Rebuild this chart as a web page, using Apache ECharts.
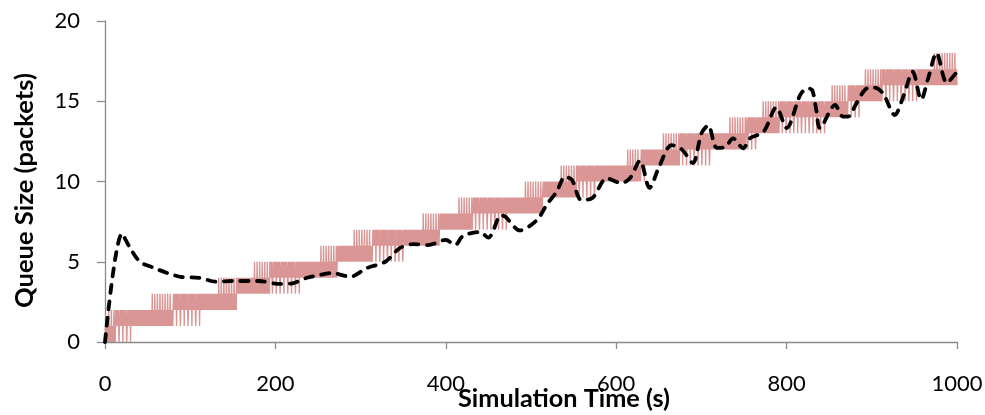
<!DOCTYPE html>
<html>
<head>
<meta charset="utf-8">
<script src="https://cdn.jsdelivr.net/npm/echarts@6/dist/echarts.min.js"></script>
<style>
html,body{margin:0;padding:0;background:#fff;overflow:hidden;}
#chart{width:985px;height:415px;}
</style>
</head>
<body>
<div id="chart"></div>
<script>
// ---- Data ----
const stepTop    = [1, 2, 3, 4, 5, 6, 7, 8, 9, 10, 11, 12, 13, 14, 15, 16, 17, 18];
const riseStart  = [0, 3, 53, 131, 173, 252, 292, 373, 413, 493, 533, 613, 653, 731, 772, 851, 892, 971];
const solidStart = [0, 12, 79, 155, 194, 273, 313, 393, 432, 514, 554, 628, 675, 753, 792, 871, 912, 1001];
const tailEnd    = [0, 33, 114, 155, 232, 273, 354, 393, 473, 514, 577, 636, 712, 768, 847, 886, 953, 1001];
const sampleStep = 0.5;
const riseSpikeEvery = 6;
const tailSpikeEvery = 9;

const avgTime  = [0, 20, 29, 41, 56, 73, 90, 111, 130, 150, 180, 205, 220, 237, 250, 266, 288, 307, 329, 346, 362, 379, 400, 411, 420, 440, 450, 465, 470, 487, 507, 519, 530, 540, 548, 559, 572, 589, 606, 616, 628, 639, 651, 665, 677, 690, 700, 708, 718, 728, 737, 749, 757, 773, 788, 800, 816, 824, 830, 835, 839, 857, 866, 872, 882, 894, 903, 913, 927, 937, 948, 958, 966, 976, 988, 1000];
const avgQueue = [0, 6.75, 5.9, 5.0, 4.65, 4.3, 4.05, 4.0, 3.76, 3.8, 3.8, 3.62, 3.66, 4.0, 4.15, 4.3, 4.07, 4.6, 5.0, 5.85, 6.1, 6.04, 6.36, 6.04, 6.6, 6.85, 6.5, 7.9, 7.8, 6.95, 7.6, 8.6, 9.35, 10.3, 10.1, 8.85, 8.97, 10.2, 9.9, 10.2, 11.3, 9.6, 11.0, 12.27, 12.0, 11.15, 13.0, 13.5, 12.1, 12.15, 12.69, 12.07, 12.69, 13.1, 14.62, 13.33, 15.39, 15.8, 15.7, 14.4, 13.33, 14.77, 14.04, 14.04, 14.87, 15.8, 15.85, 15.5, 14.14, 15.3, 16.84, 15.1, 16.4, 18.0, 16.15, 16.84];

const xTicks = [0, 200, 400, 600, 800, 1000];
const yTicks = [0, 5, 10, 15, 20];
const xTitle = 'Simulation Time (s)';
const yTitle = 'Queue Size (packets)';

// ---- Build series data ----
const queueData = [];
const nSamples = Math.round(1000 / sampleStep);
for (let n = 0; n <= nSamples; n++) {
  const t = n * sampleStep;
  let i = -1;
  for (let k = 0; k < stepTop.length; k++) if (solidStart[k] <= t) i = k;
  let v;
  if (i < 0 || n === 0) {
    v = 0;
  } else {
    const hi = stepTop[i], lo = hi - 1;
    v = (n % 2) ? hi : lo;
    if (i + 1 < stepTop.length && t >= riseStart[i + 1] && n % riseSpikeEvery === 3) v = stepTop[i + 1];
    if (t < tailEnd[i] && lo - 1 >= 0 && n % tailSpikeEvery === 6) v = lo - 1;
  }
  queueData.push([t, v]);
}
const avgData = avgTime.map((t, i) => [t, avgQueue[i]]);

// ---- Fit font sizes to the reference text widths ----
const FONT = 'Lato';
const ctx = document.createElement('canvas').getContext('2d');
function fit(text, weight, target) {
  ctx.font = weight + ' 20px ' + FONT;
  return 20 * target / ctx.measureText(text).width;
}
const tickSize = fit('1000', 'normal', 51);
const xTitleSize = fit(xTitle, 'bold', 212);
const yTitleSize = fit(yTitle, 'bold', 235);

const chart = echarts.init(document.getElementById('chart'), null, {renderer: 'canvas', width: 985, height: 415});
chart.setOption({
  animation: false,
  backgroundColor: '#ffffff',
  grid: {left: 105, right: 28, top: 21, bottom: 73, containLabel: false, outerBoundsMode: 'none'},
  graphic: [
    {
      type: 'text', x: 25, y: 190.5, rotation: Math.PI / 2,
      style: {text: yTitle, font: 'bold ' + yTitleSize + 'px ' + FONT, fill: '#000', align: 'center', verticalAlign: 'middle'}
    },
    {
      type: 'text', x: 564, y: 399,
      style: {text: xTitle, font: 'bold ' + xTitleSize + 'px ' + FONT, fill: '#000', align: 'center', verticalAlign: 'middle'}
    }
  ],
  xAxis: {
    type: 'value', min: xTicks[0], max: xTicks[xTicks.length - 1], interval: xTicks[1] - xTicks[0],
    axisLine: {show: true, lineStyle: {color: '#8a8a8a', width: 1.3}},
    axisTick: {show: true, length: 7, lineStyle: {color: '#8a8a8a', width: 1.3}},
    axisLabel: {fontFamily: FONT, fontSize: tickSize, color: '#000', margin: 31, formatter: v => String(v)},
    splitLine: {show: false}
  },
  yAxis: {
    type: 'value', min: yTicks[0], max: yTicks[yTicks.length - 1], interval: yTicks[1] - yTicks[0],
    axisLine: {show: true, lineStyle: {color: '#8a8a8a', width: 1.3}},
    axisTick: {show: true, length: 8, lineStyle: {color: '#8a8a8a', width: 1.3}},
    axisLabel: {fontFamily: FONT, fontSize: tickSize, color: '#000', margin: 25},
    splitLine: {show: false}
  },
  series: [
    {
      type: 'line', data: queueData, showSymbol: false, symbol: 'none',
      lineStyle: {color: '#D99694', width: 1.4}, sampling: null, z: 2
    },
    {
      type: 'line', data: avgData, showSymbol: false, symbol: 'none', smooth: 0.3,
      lineStyle: {color: '#000', width: 3.8, type: [8, 8.5], cap: 'round'}, z: 3
    }
  ]
});
</script>
</body>
</html>
